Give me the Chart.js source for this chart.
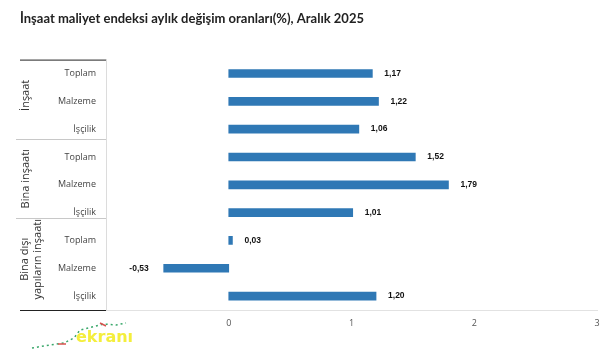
<!DOCTYPE html>
<html>
<head>
<meta charset="utf-8">
<script src="https://cdn.jsdelivr.net/npm/chart.js@4.4.1/dist/chart.umd.min.js"></script>
<style>
  body { margin: 0; background: #fff; }
  #wrap { position: relative; width: 616px; height: 349px; }
  #logo { position: absolute; left: 76px; top: 327px; font: bold 16px "DejaVu Sans", sans-serif; color: #f4ee3c; }
  #deco { position: absolute; left: 30px; top: 318px; }
</style>
</head>
<body>
<div id="wrap">
  <canvas id="barChart" width="616" height="349"></canvas>
  <svg id="deco" width="100" height="32">
    <path d="M2 30 L20 27 L34 25 L44 20 L50 12 L62 9 L74 6 L86 7 L96 5" fill="none" stroke="#3aa86b" stroke-width="1.5" stroke-dasharray="2 3"/>
    <path d="M28 26 L36 26 M70 5 L76 8" stroke="#d9534f" stroke-width="1.5"/>
  </svg>
  <div id="logo">ekranı</div>
</div>
<script>
const groups = ['İnşaat', 'Bina inşaatı', ['Bina dışı', 'yapıların inşaatı']];
const categories = ['Toplam', 'Malzeme', 'İşçilik', 'Toplam', 'Malzeme', 'İşçilik', 'Toplam', 'Malzeme', 'İşçilik'];
const values = [1.17, 1.22, 1.06, 1.52, 1.79, 1.01, 0.03, -0.53, 1.20];
const xTicks = [0, 1, 2, 3];

const BAR = '#2f78b5';

const groupPlugin = {
  id: 'groupLines',
  afterDraw(chart) {
    const ctx = chart.ctx;
    const y = chart.scales.y;
    const area = chart.chartArea;
    ctx.save();
    // dark lines top and bottom of the label column
    ctx.strokeStyle = '#222';
    ctx.lineWidth = 1;
    ctx.beginPath();
    ctx.moveTo(20, area.top + 0.5); ctx.lineTo(area.left, area.top + 0.5);
    ctx.moveTo(20, area.bottom + 0.5); ctx.lineTo(area.left, area.bottom + 0.5);
    ctx.stroke();
    // separators between groups
    ctx.strokeStyle = '#c8c8c8';
    ctx.beginPath();
    [2.35, 5.18].forEach(v => {
      const py = Math.round(y.getPixelForValue(v)) + 0.5;
      ctx.moveTo(16, py); ctx.lineTo(area.left, py);
    });
    ctx.stroke();
    // group labels
    ctx.fillStyle = '#333';
    ctx.font = '11px "Open Sans", sans-serif';
    ctx.textAlign = 'center';
    ctx.textBaseline = 'middle';
    groups.forEach((g, i) => {
      const cy = (y.getPixelForValue(i * 3) + y.getPixelForValue(i * 3 + 2)) / 2;
      const lines = Array.isArray(g) ? g : [g];
      ctx.save();
      ctx.translate(i === 2 ? 31 : 26, i === 2 ? cy - 9 : cy - 6);
      ctx.rotate(-Math.PI / 2);
      lines.forEach((l, k) => {
        ctx.fillText(l, 0, (k - (lines.length - 1) / 2) * 13);
      });
      ctx.restore();
    });
    // data labels
    const meta = chart.getDatasetMeta(0);
    ctx.font = 'bold 8.5px "Liberation Sans", Arial, sans-serif';
    ctx.fillStyle = '#111';
    meta.data.forEach((bar, i) => {
      const v = values[i];
      const txt = v.toFixed(2).replace('.', ',');
      if (v >= 0) {
        ctx.textAlign = 'left';
        ctx.fillText(txt, bar.x + 12, bar.y);
      } else {
        ctx.textAlign = 'right';
        ctx.fillText(txt, bar.x - 15, bar.y);
      }
    });
    ctx.restore();
  }
};

new Chart(document.getElementById('barChart'), {
  type: 'bar',
  data: {
    labels: categories,
    datasets: [{
      data: values,
      backgroundColor: BAR,
      barThickness: 8
    }]
  },
  options: {
    indexAxis: 'y',
    responsive: false,
    animation: false,
    layout: { padding: { left: 20, right: 19, top: 0, bottom: 0 } },
    scales: {
      x: {
        min: -1,
        max: 3,
        afterBuildTicks(axis) { axis.ticks = [-1].concat(xTicks).map(v => ({ value: v })); },
        afterFit(axis) { axis.height = 39; },
        grid: { display: false, drawTicks: false },
        border: { display: true, color: '#e2e2e2' },
        ticks: {
          color: '#555',
          padding: 8,
          font: { size: 9, family: '"Open Sans", sans-serif' },
          callback: v => v < 0 ? '' : v
        }
      },
      y: {
        afterFit(axis) { axis.width = 86; },
        grid: { display: false, drawTicks: false },
        border: { display: true, color: '#dcdcdc' },
        ticks: {
          color: '#444',
          padding: 10,
          font: { size: 9, family: '"Open Sans", sans-serif' }
        }
      }
    },
    plugins: {
      legend: { display: false },
      tooltip: { enabled: false },
      title: {
        display: true,
        align: 'start',
        text: 'İnşaat maliyet endeksi aylık değişim oranları(%), Aralık 2025',
        color: '#222',
        font: { size: 13, weight: 'bold', family: 'Lato, sans-serif' },
        padding: { top: 11, bottom: 33 }
      }
    }
  },
  plugins: [groupPlugin]
});
</script>
</body>
</html>
